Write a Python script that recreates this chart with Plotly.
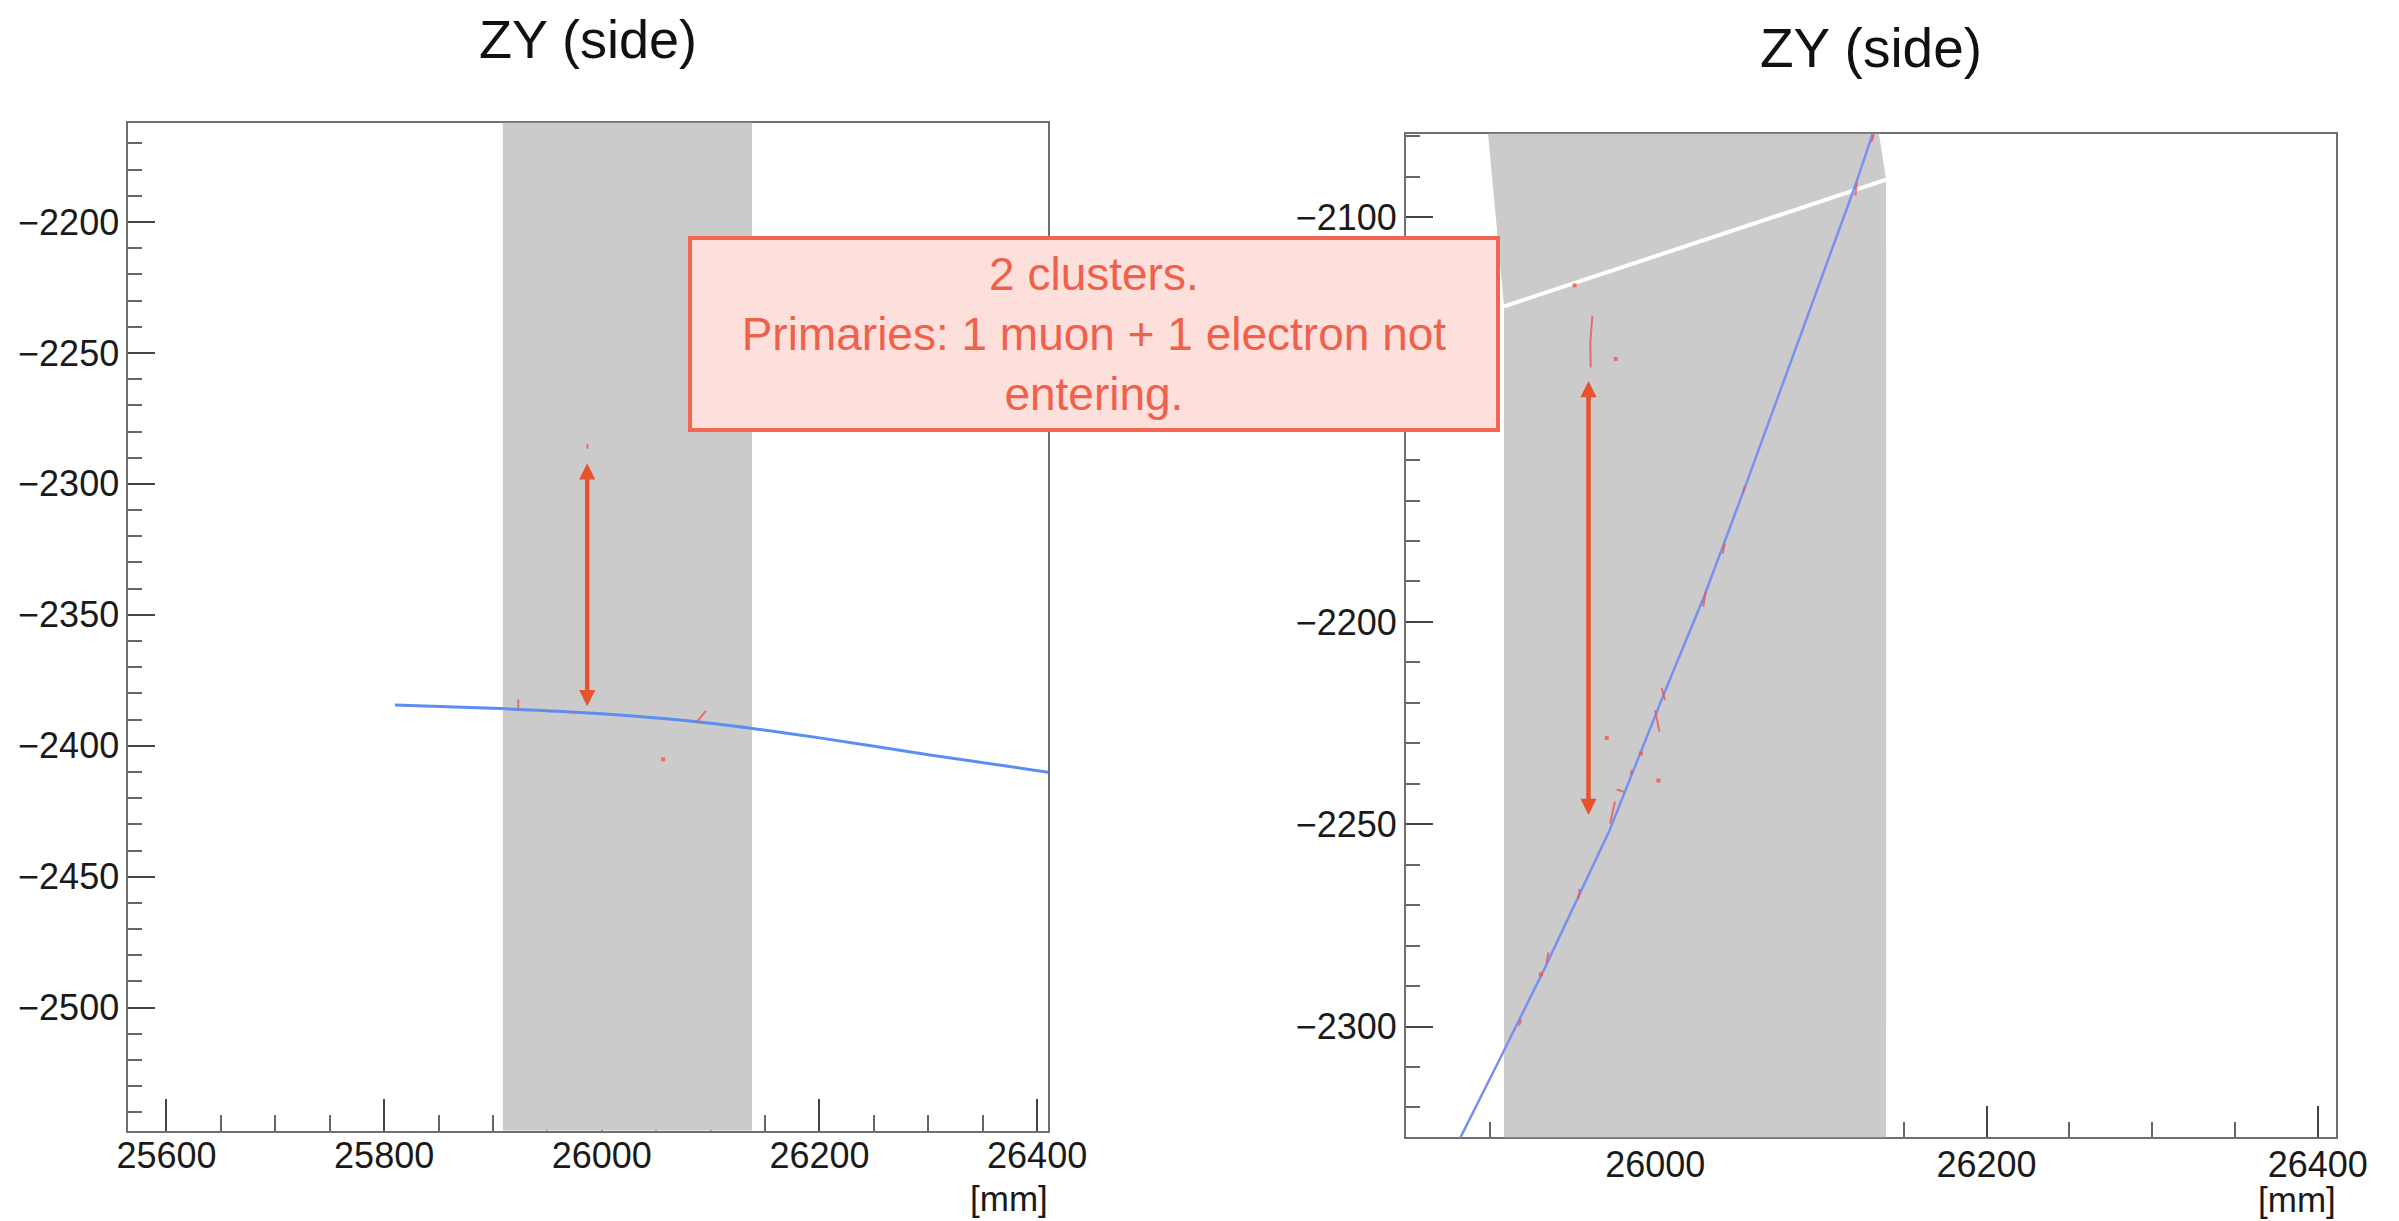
import plotly.graph_objects as go

# ---------------- data ----------------
# axis ranges (mm)
left_x_range = [25565, 26410]
left_y_range = [-2547, -2162]
right_x_range = [25849.5, 26411]
right_y_range = [-2327.4, -2079.3]

# detector volume (grey band)
left_band_x = [25909, 26138, 26138, 25909, 25909]
left_band_y = [-2547, -2547, -2162, -2162, -2547]
right_band_x = [25899, 26135, 26139.4, 26139.4, 25908.7, 25908.7, 25899]
right_band_y = [-2079.3, -2079.3, -2090.7, -2327.4, -2327.4, -2122, -2079.3]

# gap between volumes (white line, right panel)
gap_x = [25908.7, 26139.4]
gap_y = [-2122.0, -2090.7]

# muon track (blue)
left_track_x = [25810, 25900, 26000, 26100, 26200, 26300, 26420]
left_track_y = [-2384.4, -2385.7, -2387.8, -2391.4, -2397.0, -2403.4, -2410.7]
right_track_x = [25876, 25882.4, 25908.1, 25932.4, 25972.3, 26006.2, 26029.6, 26053.9, 26120.7, 26131.7, 26134]
right_track_y = [-2333, -2327.4, -2306.4, -2286.3, -2251.6, -2216.8, -2193.6, -2167.0, -2092.2, -2079.3, -2076]

# hits (red segments and dots)
left_hits_x = [25923.2, 25923.2, None, 25952.9, 25954.5, None, 25970.7, 25972.3, None,
               26087.0, 26095.6, None, 25986.7, 25986.7]
left_hits_y = [-2382.3, -2386.3, None, -2386.9, -2387.0, None, -2387.2, -2387.3, None,
               -2391.1, -2386.7, None, -2284.8, -2286.6]
left_dots_x = [26056.4]
left_dots_y = [-2405.2]

right_hits_x = [26030.5, 26029.0, None, 26003.9, 26005.9, None, 25999.9, 26002.5, None,
                25985.8, 25985.2, None, 25976.7, 25981.3, None, 25975.7, 25972.7, None,
                25962.0, 25960.8, 25961.0, None, 26131.9, 26130.5, None, 26121.7, 26120.8, None,
                26054.0, 26053.1, None, 26042.0, 26040.7, None, 25954.4, 25953.5, None,
                25935.4, 25934.5, None, 25919.0, 25917.7]
right_hits_y = [-2192.5, -2196.2, None, -2216.4, -2219.3, None, -2221.8, -2227.1, None,
                -2236.6, -2237.8, None, -2241.4, -2242.0, None, -2244.4, -2249.8, None,
                -2124.4, -2131.0, -2137.1, None, -2079.5, -2081.4, None, -2091.4, -2094.6, None,
                -2166.5, -2167.9, None, -2180.6, -2183.1, None, -2266.0, -2268.5, None,
                -2281.7, -2284.2, None, -2298.3, -2299.8]
right_dots_x = [25970.7, 25991.4, 26001.9, 25976.1, 25951.3, 25931.0]
right_dots_y = [-2228.7, -2232.5, -2239.2, -2135.0, -2116.8, -2287.1]

# cluster separation arrows [x, y_top, y_bottom]
left_arrow = [25986.6, -2290.0, -2386.4]
right_arrow = [25959.7, -2139.1, -2248.7]

titles = ["ZY (side)", "ZY (side)"]
unit_label = "[mm]"
note_lines = ["2 clusters.", "Primaries: 1 muon + 1 electron not", "entering."]

# ---------------- layout geometry ----------------
FONT = "Liberation Sans, Arial, Helvetica, sans-serif"
GREY = "rgb(203,203,203)"
HIT = "rgba(238,85,80,0.8)"
ARROW = "#e8532f"
OFF = 8                      # default page body margin
W, H = 2399 - OFF, 1221 - OFF


def px(xp):
    return (xp - OFF) / W


def py(yp):
    return 1 - (yp - OFF) / H


fig = go.Figure()

fig.add_trace(go.Scatter(x=left_band_x, y=left_band_y, fill="toself", fillcolor=GREY, mode="lines",
                         line=dict(width=0, color=GREY), xaxis="x", yaxis="y",
                         hoverinfo="skip", showlegend=False))
fig.add_trace(go.Scatter(x=right_band_x, y=right_band_y, fill="toself", fillcolor=GREY, mode="lines",
                         line=dict(width=0, color=GREY), xaxis="x2", yaxis="y2",
                         hoverinfo="skip", showlegend=False))

fig.add_trace(go.Scatter(x=gap_x, y=gap_y, mode="lines", line=dict(color="white", width=4),
                         xaxis="x2", yaxis="y2", showlegend=False, hoverinfo="skip"))

fig.add_trace(go.Scatter(x=left_track_x, y=left_track_y, mode="lines",
                         line=dict(color="#5b8ef0", width=3, shape="spline", smoothing=0.6),
                         xaxis="x", yaxis="y", showlegend=False))
fig.add_trace(go.Scatter(x=right_track_x, y=right_track_y, mode="lines",
                         line=dict(color="#7a90f0", width=2.5),
                         xaxis="x2", yaxis="y2", showlegend=False))

fig.add_trace(go.Scatter(x=left_hits_x, y=left_hits_y, mode="lines",
                         line=dict(color=HIT, width=2), connectgaps=False,
                         xaxis="x", yaxis="y", showlegend=False))
fig.add_trace(go.Scatter(x=left_dots_x, y=left_dots_y, mode="markers",
                         marker=dict(color=HIT, size=4, symbol="square"),
                         xaxis="x", yaxis="y", showlegend=False))
fig.add_trace(go.Scatter(x=right_hits_x, y=right_hits_y, mode="lines",
                         line=dict(color=HIT, width=2), connectgaps=False,
                         xaxis="x2", yaxis="y2", showlegend=False))
fig.add_trace(go.Scatter(x=right_dots_x, y=right_dots_y, mode="markers",
                         marker=dict(color=HIT, size=4, symbol="square"),
                         xaxis="x2", yaxis="y2", showlegend=False))


def axis_common(rng, dom, dtick, mdtick, major_len, minor_len, anchor, standoff):
    return dict(range=rng, domain=dom, anchor=anchor, showgrid=False, zeroline=False,
                showline=True, mirror=True, linecolor="#707070", linewidth=2,
                ticks="inside", ticklen=major_len, tickwidth=2, tickcolor="#444",
                tick0=0, dtick=dtick, tickformat="d", automargin=False,
                ticklabelstandoff=standoff,
                minor=dict(ticks="inside", ticklen=minor_len, tickwidth=2,
                           tickcolor="#666", dtick=mdtick, tick0=0, showgrid=False),
                tickfont=dict(family=FONT, size=36, color="#1a1a1a"),
                layer="below traces", fixedrange=True)


fig.update_layout(
    xaxis=axis_common(left_x_range, [px(128.4), px(1048)], 200, 50, 32, 16, "y", -8),
    yaxis=axis_common(left_y_range, [py(1130.7), py(122.5)], 50, 10, 27, 14, "x", 0),
    xaxis2=axis_common(right_x_range, [px(1406), px(2336)], 200, 50, 31, 15, "y2", -6),
    yaxis2=axis_common(right_y_range, [py(1137.4), py(133.6)], 50, 10, 27, 14, "x2", 0),
)

annotations = []
# titles
annotations.append(dict(text=titles[0], x=px(588), y=py(39), xref="paper", yref="paper",
                        xanchor="center", yanchor="middle", showarrow=False,
                        font=dict(family=FONT, size=54, color="#111")))
annotations.append(dict(text=titles[1], x=px(1871), y=py(48), xref="paper", yref="paper",
                        xanchor="center", yanchor="middle", showarrow=False,
                        font=dict(family=FONT, size=55, color="#111")))
# unit labels
for xd, yd, yy in (("x domain", "y domain", -0.0668), ("x2 domain", "y2 domain", -0.0615)):
    annotations.append(dict(text=unit_label, x=1.002, y=yy, xref=xd, yref=yd,
                            xanchor="right", yanchor="middle", showarrow=False,
                            font=dict(family=FONT, size=35, color="#1a1a1a")))
# arrows
for arr, xr, yr in ((left_arrow, "x", "y"), (right_arrow, "x2", "y2")):
    annotations.append(dict(text="", x=arr[0], y=arr[2], ax=arr[0], ay=arr[1],
                            xref=xr, yref=yr, axref=xr, ayref=yr, showarrow=True,
                            arrowhead=2, startarrowhead=2, arrowside="end+start",
                            arrowwidth=4.5, arrowsize=0.72, startarrowsize=0.72,
                            arrowcolor=ARROW, standoff=4, startstandoff=4))
# note box
annotations.append(dict(text="<br>".join(note_lines), x=px(1094.45), y=py(334),
                        xref="paper", yref="paper", xanchor="center", yanchor="middle",
                        showarrow=False, align="center",
                        width=804, height=188, bgcolor="#fde0dc",
                        bordercolor="#f26550", borderwidth=4, borderpad=0,
                        font=dict(family=FONT, size=46, color="#f0614b")))

fig.update_layout(annotations=annotations, width=W, height=H,
                  margin=dict(l=0, r=0, t=0, b=0, autoexpand=False),
                  paper_bgcolor="white", plot_bgcolor="white", showlegend=False)

fig.write_html("out.html")
